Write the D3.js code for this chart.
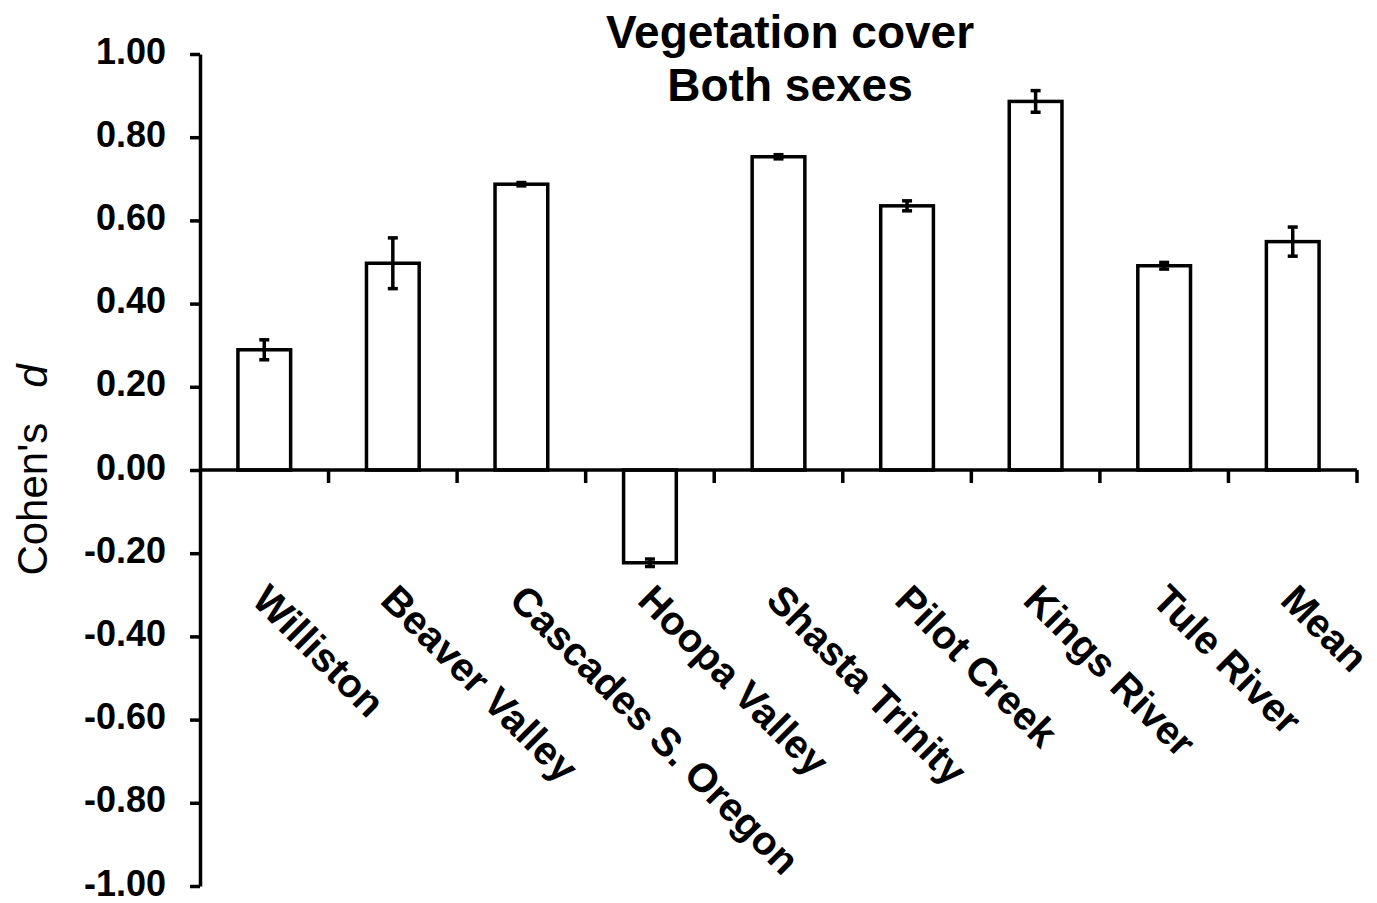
<!DOCTYPE html>
<html lang="en">
<head>
  <meta charset="UTF-8">
  <title>Vegetation cover - Both sexes</title>
  <script src="https://d3js.org/d3.v7.js"></script>
  <style>
    body {
      margin: 0;
      background-color: #ffffff;
      font-family: Arial, "Liberation Sans", sans-serif;
    }
    svg text {
      fill: #000;
    }
    .title {
      font-size: 46px;
      font-weight: bold;
      text-anchor: middle;
    }
    .y-axis text {
      font-size: 36px;
      font-weight: bold;
    }
    .x-axis text {
      font-size: 40px;
      font-weight: bold;
    }
  </style>
</head>
<body>
  <svg id="chart"></svg>

  <script>
    const sites = ["Williston", "Beaver Valley", "Cascades S. Oregon", "Hoopa Valley",
      "Shasta Trinity", "Pilot Creek", "Kings River", "Tule River", "Mean"];
    const cohensD = [0.289, 0.497, 0.687, -0.223, 0.753, 0.635, 0.886, 0.491, 0.549];
    const errors = [0.024, 0.061, 0.004, 0.009, 0.005, 0.012, 0.026, 0.008, 0.035];
    const yTicks = [1, 0.8, 0.6, 0.4, 0.2, 0, -0.2, -0.4, -0.6, -0.8, -1];

    const width = 1377;
    const height = 903;
    const margin = { top: 54, right: 20, bottom: 17, left: 200 };
    const plotRight = 1357;

    const svg = d3.select("#chart")
      .attr("width", width)
      .attr("height", height);

    const x = d3.scaleBand()
      .domain(sites)
      .range([margin.left, plotRight])
      .paddingInner(0.59)
      .paddingOuter(0.295);

    const y = d3.scaleLinear()
      .domain([-1, 1])
      .range([height - margin.bottom, margin.top]);

    const data = sites.map((s, i) => ({ site: s, value: cohensD[i], err: errors[i] }));

    // title
    svg.append("text").attr("class", "title")
      .attr("x", 790).attr("y", 48).text("Vegetation cover");
    svg.append("text").attr("class", "title")
      .attr("x", 790).attr("y", 101).text("Both sexes");

    // y axis, hyphen minus like the original
    const fmt = d => d3.format(".2f")(d).replace("\u2212", "-");
    const yAxis = d3.axisLeft(y)
      .tickValues(yTicks)
      .tickFormat(fmt)
      .tickSizeInner(10)
      .tickSizeOuter(0)
      .tickPadding(24);

    svg.append("g")
      .attr("class", "y-axis")
      .attr("transform", `translate(${margin.left},0)`)
      .call(yAxis)
      .call(g => g.select(".domain").attr("stroke-width", 3.5))
      .call(g => g.selectAll(".tick line").attr("stroke-width", 3.5))
      .call(g => g.selectAll(".tick text")
        .attr("fill", "#000")
        .attr("dy", "0.25em")
        .style("font-family", "Arial, 'Liberation Sans', sans-serif"));

    // y label
    svg.append("text")
      .attr("transform", `translate(47,${y(0)}) rotate(-90)`)
      .attr("text-anchor", "middle")
      .style("font-size", "42px")
      .html("Cohen's\u00a0\u00a0\u00a0<tspan font-style='italic'>d</tspan>");

    // bars
    svg.append("g")
      .selectAll("rect")
      .data(data)
      .join("rect")
      .attr("x", d => x(d.site))
      .attr("width", x.bandwidth())
      .attr("y", d => y(Math.max(0, d.value)))
      .attr("height", d => Math.abs(y(d.value) - y(0)))
      .attr("fill", "#fff")
      .attr("stroke", "#000")
      .attr("stroke-width", 3.5);

    // x axis (labels at band centres, ticks at band boundaries)
    const xAxis = d3.axisBottom(x).tickSize(0).tickPadding(0);
    const gx = svg.append("g")
      .attr("class", "x-axis")
      .attr("transform", `translate(0,${y(0)})`)
      .call(xAxis);

    gx.select(".domain").remove();
    gx.selectAll(".tick text")
      .attr("y", 0)
      .attr("dy", 0)
      .attr("fill", "#000")
      .style("font-family", "Arial, 'Liberation Sans', sans-serif")
      .attr("text-anchor", "start")
      .attr("transform", "translate(-14,132) rotate(45)");

    gx.append("line")
      .attr("x1", margin.left).attr("x2", plotRight)
      .attr("stroke", "#000").attr("stroke-width", 3.5);

    gx.selectAll(".boundary")
      .data(sites)
      .join("line")
      .attr("class", "boundary")
      .attr("x1", d => x(d) + x.bandwidth() / 2 + x.step() / 2)
      .attr("x2", d => x(d) + x.bandwidth() / 2 + x.step() / 2)
      .attr("y1", 0).attr("y2", 13)
      .attr("stroke", "#000").attr("stroke-width", 3.5);

    // error bars
    const eb = svg.append("g")
      .selectAll("g")
      .data(data)
      .join("g")
      .attr("transform", d => `translate(${x(d.site) + x.bandwidth() / 2},0)`)
      .attr("stroke", "#000")
      .attr("stroke-width", 3.5);

    eb.append("line")
      .attr("y1", d => y(d.value + d.err))
      .attr("y2", d => y(d.value - d.err));
    eb.append("line")
      .attr("x1", -5).attr("x2", 5)
      .attr("y1", d => y(d.value + d.err))
      .attr("y2", d => y(d.value + d.err));
    eb.append("line")
      .attr("x1", -5).attr("x2", 5)
      .attr("y1", d => y(d.value - d.err))
      .attr("y2", d => y(d.value - d.err));
  </script>
</body>
</html>
